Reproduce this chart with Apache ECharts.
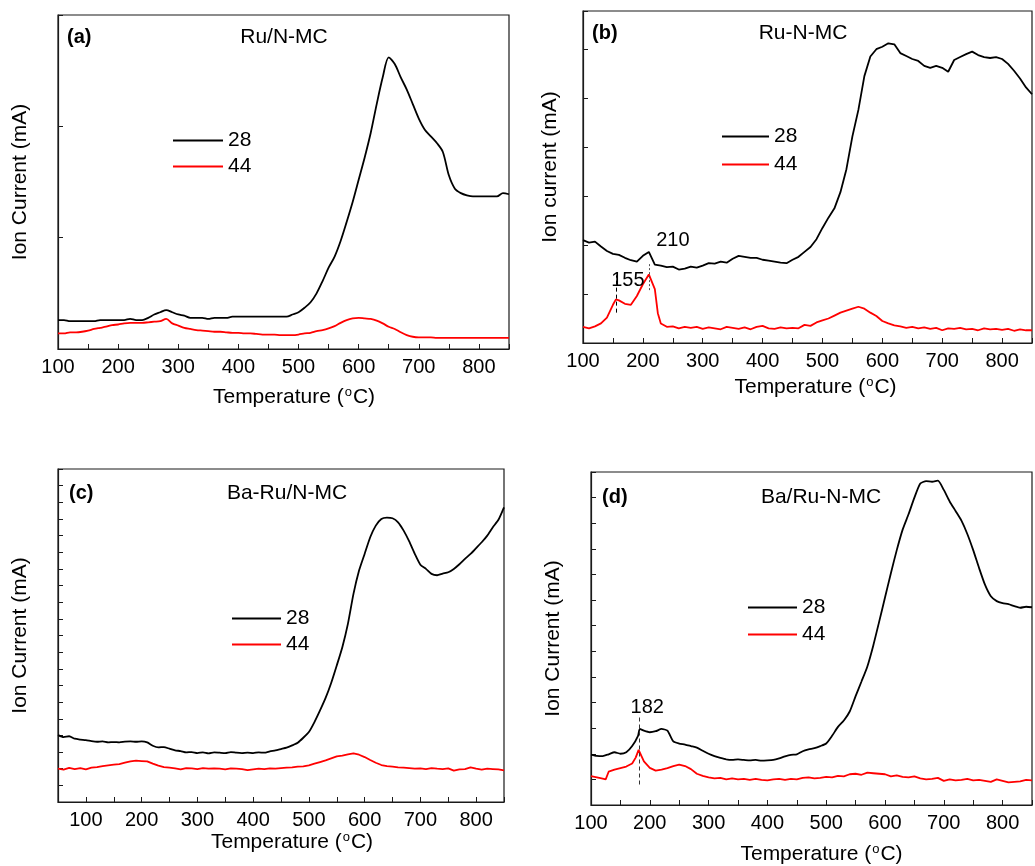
<!DOCTYPE html>
<html>
<head>
<meta charset="utf-8">
<script src="https://cdn.jsdelivr.net/npm/echarts@6/dist/echarts.min.js"></script>
<style>
  html, body { margin: 0; padding: 0; background: #fff; }
  #main { width: 1035px; height: 866px; }
</style>
</head>
<body>
<div id="main"></div>
<script>
// TPD-MS traces (m/z 28 and 44) for four Ru catalysts.

const temps = [100,110,120,130,140,150,160,170,180,190,200,210,220,230,240,250,260,270,280,290,
  300,310,320,330,340,350,360,370,380,390,400,410,420,430,440,450,460,470,480,490,
  500,510,520,530,540,550,560,570,580,590,600,610,620,630,640,650,660,670,680,690,
  700,710,720,730,740,750,760,770,780,790,800,810,820,830,840,850];

// (a) Ru/N-MC
const a28 = [0.26,0.26,0.25,0.25,0.25,0.25,0.25,0.26,0.26,0.26,
  0.26,0.26,0.27,0.26,0.26,0.28,0.31,0.33,0.35,0.33,
  0.31,0.30,0.28,0.28,0.28,0.27,0.28,0.28,0.28,0.29,
  0.29,0.29,0.29,0.29,0.29,0.29,0.29,0.29,0.29,0.31,
  0.33,0.37,0.42,0.50,0.61,0.73,0.83,0.97,1.14,1.32,
  1.52,1.72,1.94,2.20,2.44,2.62,2.56,2.44,2.33,2.20,
  2.07,1.97,1.91,1.85,1.77,1.56,1.44,1.40,1.38,1.37,
  1.37,1.37,1.37,1.37,1.40,1.39];
const a44 = [0.14,0.14,0.15,0.15,0.155,0.165,0.18,0.19,0.20,0.215,
  0.22,0.23,0.235,0.235,0.235,0.24,0.245,0.25,0.27,0.23,
  0.21,0.19,0.18,0.17,0.165,0.16,0.155,0.155,0.15,0.145,
  0.145,0.14,0.14,0.135,0.13,0.13,0.13,0.125,0.125,0.125,
  0.13,0.14,0.145,0.16,0.17,0.185,0.205,0.235,0.26,0.275,
  0.28,0.275,0.27,0.255,0.23,0.20,0.18,0.15,0.125,0.11,
  0.105,0.105,0.105,0.10,0.10,0.10,0.10,0.10,0.10,0.10,
  0.10,0.10,0.10,0.10,0.10,0.10];

// (b) Ru-N-MC
const b28 = [2.10,2.05,2.07,1.97,1.88,1.82,1.80,1.74,1.69,1.66,
  1.78,1.86,1.60,1.58,1.55,1.56,1.50,1.52,1.56,1.54,
  1.58,1.63,1.62,1.66,1.64,1.72,1.78,1.76,1.74,1.74,
  1.70,1.68,1.66,1.64,1.63,1.70,1.76,1.86,1.96,2.12,
  2.35,2.56,2.75,3.08,3.55,4.22,4.76,5.45,5.85,6.00,
  6.05,6.12,6.10,5.92,5.86,5.80,5.76,5.66,5.62,5.66,
  5.62,5.54,5.78,5.84,5.90,5.95,5.88,5.84,5.82,5.84,
  5.80,5.70,5.56,5.40,5.22,5.08];
const tempsB44 = [100,110,120,130,140,150,155,160,170,180,190,200,210,212,220,225,230,
  240,250,260,270,280,290,300,310,320,330,340,350,360,370,380,390,400,410,420,430,440,450,460,470,480,490,
  500,510,520,530,540,550,560,570,580,590,600,610,620,630,640,650,660,670,680,690,
  700,710,720,730,740,750,760,770,780,790,800,810,820,830,840,850];
const b44 = [0.33,0.30,0.34,0.40,0.52,0.78,0.89,0.87,0.80,0.78,0.96,1.20,1.40,1.43,1.10,0.61,0.40,
  0.33,0.34,0.30,0.33,0.31,0.33,0.29,0.32,0.30,0.28,0.33,0.31,0.29,0.32,0.28,0.33,0.35,0.30,0.29,0.32,0.30,0.31,0.30,0.37,0.35,0.42,
  0.46,0.50,0.56,0.62,0.66,0.70,0.74,0.70,0.62,0.55,0.45,0.40,0.36,0.34,0.31,0.33,0.30,0.32,0.29,0.31,
  0.26,0.30,0.29,0.31,0.28,0.29,0.26,0.30,0.28,0.29,0.27,0.29,0.25,0.28,0.26,0.26];

// (c) Ba-Ru/N-MC
const tempsC = [50,60,70,80,90,100,110,120,130,140,150,160,170,180,190,200,210,220,230,240,250,260,270,280,290,
  300,310,320,330,340,350,360,370,380,390,400,410,420,430,440,450,460,470,480,490,
  500,510,520,530,540,550,560,570,580,590,600,610,620,630,640,650,660,670,680,690,
  700,710,720,730,740,750,760,770,780,790,800,810,820,830,840,850];
const c28 = [4.02,3.90,3.95,3.80,3.75,
  3.72,3.66,3.62,3.64,3.58,3.60,3.58,3.62,3.64,3.62,
  3.64,3.58,3.38,3.28,3.30,3.20,3.10,3.06,2.98,3.00,
  2.94,2.98,2.92,2.98,2.96,2.94,3.00,2.96,2.94,2.96,
  2.94,2.98,2.96,3.04,3.10,3.18,3.26,3.40,3.56,3.86,
  4.20,4.80,5.50,6.25,7.15,8.20,9.30,10.70,12.50,13.90,
  14.90,15.90,16.60,17.00,17.08,17.04,16.80,16.30,15.65,14.90,
  14.25,14.00,13.70,13.62,13.72,13.80,14.00,14.28,14.60,14.90,
  15.25,15.60,16.00,16.50,16.95,17.70];
const c44 = [2.01,1.95,2.05,1.98,2.04,
  1.96,2.06,2.10,2.16,2.20,2.24,2.28,2.36,2.44,2.48,
  2.46,2.44,2.30,2.18,2.10,2.06,2.02,1.96,2.04,2.02,
  1.98,2.04,2.00,2.02,2.00,1.96,2.02,2.00,1.98,1.92,
  1.96,2.00,1.98,2.02,2.00,2.04,2.06,2.08,2.12,2.14,
  2.20,2.30,2.40,2.50,2.62,2.74,2.78,2.86,2.92,2.84,
  2.70,2.52,2.36,2.22,2.16,2.12,2.08,2.06,2.04,2.00,
  2.02,1.98,2.04,2.00,1.98,2.02,1.88,1.96,1.98,2.08,
  2.00,1.94,2.00,1.98,1.96,1.90];

// (d) Ba/Ru-N-MC
const tempsD28 = [100,110,120,130,140,150,160,170,180,183,190,200,210,220,230,240,250,260,270,280,290,
  300,310,320,330,340,350,360,370,380,390,400,410,420,430,440,450,460,470,480,490,
  500,510,520,530,540,550,560,570,580,590,600,610,620,630,640,650,660,670,680,690,
  700,710,720,730,740,750,760,770,780,790,800,810,820,830,840,850];
const d28 = [1.97,1.92,1.91,1.98,2.06,2.00,2.06,2.30,2.70,2.97,
  2.90,2.84,2.88,2.97,2.90,2.48,2.40,2.36,2.30,2.24,2.12,
  2.00,1.91,1.84,1.78,1.76,1.78,1.76,1.74,1.76,1.73,
  1.74,1.76,1.82,1.90,1.96,1.98,2.10,2.17,2.22,2.30,
  2.40,2.70,3.05,3.30,3.65,4.25,4.82,5.41,6.22,7.15,
  8.10,9.05,9.95,10.75,11.35,12.00,12.55,12.64,12.62,12.66,
  12.30,11.85,11.48,11.10,10.58,9.95,9.25,8.60,8.15,7.96,
  7.88,7.84,7.76,7.70,7.74,7.72];
const tempsD44 = [100,110,120,125,130,140,150,160,170,176,181,190,200,210,220,230,240,250,260,270,280,290,
  300,310,320,330,340,350,360,370,380,390,400,410,420,430,440,450,460,470,480,490,
  500,510,520,530,540,550,560,570,580,590,600,610,620,630,640,650,660,670,680,690,
  700,710,720,730,740,750,760,770,780,790,800,810,820,830,840,850];
const d44 = [1.13,1.08,1.03,1.00,1.30,1.38,1.44,1.50,1.62,1.85,2.15,
  1.70,1.45,1.34,1.38,1.44,1.52,1.58,1.52,1.40,1.22,1.14,
  1.08,1.04,1.06,1.00,1.04,1.00,1.02,0.98,1.02,0.98,
  0.96,1.00,1.02,0.98,1.02,1.00,1.06,1.08,1.04,1.06,
  1.10,1.08,1.14,1.12,1.20,1.22,1.18,1.26,1.24,1.22,
  1.20,1.12,1.16,1.10,1.08,1.12,1.04,1.00,1.02,1.06,
  0.94,1.00,0.96,0.98,1.02,0.96,0.98,0.94,0.90,1.00,
  0.94,0.88,0.90,0.92,0.98,0.96];

const seriesNames = ['28', '44'];
const panelLabels = ['(a)', '(b)', '(c)', '(d)'];
const sampleNames = ['Ru/N-MC', 'Ru-N-MC', 'Ba-Ru/N-MC', 'Ba/Ru-N-MC'];
const yNames = ['Ion Current (mA)', 'Ion current (mA)', 'Ion Current (mA)', 'Ion Current (mA)'];
const xName = 'Temperature ({sup|o}C)';

const FONT = 'Arial, "Liberation Sans", Helvetica, sans-serif';
const INK = '#1a1a1a';
const LINE_W = 1.8;

const pairs = (t, v) => t.map((x, i) => [x, v[i]]);

const layout = [
  { grid: { left: 58, top: 15, width: 451, height: 334 }, xMin: 100, yMax: 3,
    xShift: 21, yShift: 0, yGap: 27, xGap: 37, smooth: 0.3,
    legend: { left: 173, top: 130, itemWidth: 50, itemGap: 5 },
    tag: [67, 37], title: [284, 37] },
  { grid: { left: 583, top: 11, width: 457, height: 332 }, xMin: 100, yMax: 6.78,
    xShift: 16, yShift: 20, yGap: 22, xGap: 33, smooth: false,
    legend: { left: 722, top: 126, itemWidth: 47, itemGap: 7 },
    tag: [592, 33], title: [803, 33] },
  { grid: { left: 58, top: 469, width: 446, height: 333 }, xMin: 50, yMax: 20,
    xShift: 22, yShift: 0, yGap: 27, xGap: 29, smooth: 0.2,
    legend: { left: 232, top: 608, itemWidth: 49, itemGap: 5 },
    tag: [69, 493], title: [287, 493] },
  { grid: { left: 591, top: 472, width: 451, height: 334 }, xMin: 100, yMax: 13,
    xShift: 20, yShift: 0, yGap: 27, xGap: 38, smooth: 0.2,
    legend: { left: 748, top: 597, itemWidth: 49, itemGap: 6 },
    tag: [602, 497], title: [821, 497] }
];

const traces = [
  [pairs(temps, a28), pairs(temps, a44)],
  [pairs(temps, b28), pairs(tempsB44, b44)],
  [pairs(tempsC, c28), pairs(tempsC, c44)],
  [pairs(tempsD28, d28), pairs(tempsD44, d44)]
];

// Peak markers: dashed guide from low to high value at a temperature, with its label
const peakMarks = [
  { panel: 1, trace: 1, t: 155, from: 0.62, to: 1.38, color: '#000', type: [4, 3], offset: [12, 5] },
  { panel: 1, trace: 0, t: 210, from: 1.08, to: 1.62, color: '#555', type: [2, 2], offset: [24, -23] },
  { panel: 3, trace: 1, t: 182, from: 0.80, to: 3.46, color: '#333', type: [4, 3], offset: [8, -9] }
];

const grid = [], xAxis = [], yAxis = [], legend = [], series = [], graphic = [];

layout.forEach((p, i) => {
  grid.push(Object.assign({ show: true, borderColor: INK, borderWidth: 1.2, backgroundColor: 'transparent' }, p.grid));
  xAxis.push({
    type: 'value', gridIndex: i, min: p.xMin, max: 850, interval: 50,
    axisLine: { show: true, onZero: false, lineStyle: { color: INK, width: 1.2 } },
    axisTick: { show: true, inside: true, length: 5, lineStyle: { color: INK, width: 1 } },
    axisLabel: {
      margin: 8, color: '#000', fontSize: 20, fontFamily: FONT, hideOverlap: false,
      formatter: v => (v % 100 === 0 ? String(v) : '')
    },
    splitLine: { show: false },
    name: xName, nameLocation: 'middle', nameGap: p.xGap,
    nameTextStyle: {
      color: '#000', fontSize: 21, fontFamily: FONT, padding: [0, 0, 0, p.xShift],
      rich: { sup: { fontSize: 13, fontFamily: FONT, color: '#000', verticalAlign: 'top', padding: [0, 1, 10, 1] } }
    }
  });
  yAxis.push({
    type: 'value', gridIndex: i, min: 0, max: p.yMax, interval: 1,
    axisLine: { show: true, lineStyle: { color: INK, width: 1.2 } },
    axisTick: { show: true, inside: true, length: 5, lineStyle: { color: INK, width: 1 } },
    axisLabel: { show: false },
    splitLine: { show: false },
    name: yNames[i], nameLocation: 'middle', nameGap: p.yGap,
    nameTextStyle: { color: '#000', fontSize: 21, fontFamily: FONT, padding: [0, 0, 0, p.yShift] }
  });
  legend.push({
    left: p.legend.left, top: p.legend.top, orient: 'vertical', padding: 0,
    icon: 'rect', itemWidth: p.legend.itemWidth, itemHeight: LINE_W, itemGap: p.legend.itemGap,
    selectedMode: false, data: seriesNames,
    textStyle: { color: '#000', fontSize: 21, fontFamily: FONT, lineHeight: 21 }
  });
  traces[i].forEach((data, k) => {
    series.push({
      type: 'line', name: seriesNames[k], xAxisIndex: i, yAxisIndex: i,
      data: data, symbol: 'none', showSymbol: false, animation: false,
      smooth: k === 0 ? p.smooth : (i === 0 ? p.smooth : false),
      lineStyle: { color: k === 0 ? '#000000' : '#ff0000', width: LINE_W },
      itemStyle: { color: k === 0 ? '#000000' : '#ff0000' },
      z: k === 0 ? 3 : 2
    });
  });
  graphic.push({
    type: 'text', x: p.tag[0], y: p.tag[1],
    style: { text: panelLabels[i], font: 'bold 20px ' + FONT, fill: '#000', textAlign: 'left', textVerticalAlign: 'middle' }
  });
  graphic.push({
    type: 'text', x: p.title[0], y: p.title[1],
    style: { text: sampleNames[i], font: '21px ' + FONT, fill: '#000', textAlign: 'center', textVerticalAlign: 'middle' }
  });
});

peakMarks.forEach(m => {
  const s = series[m.panel * 2 + m.trace];
  s.markLine = s.markLine || { silent: true, symbol: 'none', animation: false, label: { show: false }, data: [] };
  s.markLine.data.push([
    { coord: [m.t, m.from], lineStyle: { color: m.color, type: m.type, width: 1 } },
    { coord: [m.t, m.to] }
  ]);
  s.markPoint = s.markPoint || { silent: true, animation: false, symbol: 'circle', symbolSize: 0, data: [] };
  s.markPoint.data.push({
    coord: [m.t, m.to], value: m.t,
    label: { show: true, position: 'inside', offset: m.offset, formatter: String(m.t),
      color: '#000', fontSize: 20, fontFamily: FONT }
  });
});

const chart = echarts.init(document.getElementById('main'), null, { renderer: 'canvas' });
chart.setOption({
  backgroundColor: '#ffffff',
  animation: false,
  grid, xAxis, yAxis, legend, series, graphic
});
</script>
</body>
</html>
